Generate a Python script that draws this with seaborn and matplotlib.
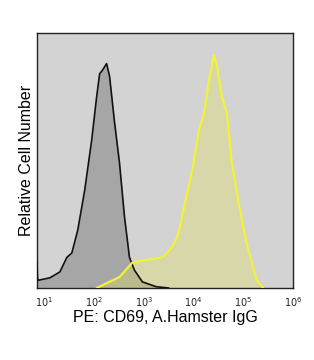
import numpy as np
import pandas as pd
import matplotlib
matplotlib.use("Agg")
import matplotlib.pyplot as plt
import seaborn as sns

# Isotype / unstained (black) histogram: log10 intensity, relative count
ctrl_logx = [0.85, 0.86, 0.87, 1.11, 1.31, 1.45, 1.55, 1.67, 1.81, 1.95, 2.05, 2.11, 2.17, 2.25,
             2.31, 2.41, 2.51, 2.61, 2.71, 2.81, 2.97, 3.25, 3.50]
ctrl_y = [0.10, 0.04, 0.03, 0.04, 0.063, 0.12, 0.137, 0.227, 0.384, 0.58, 0.75, 0.84, 0.855, 0.88,
          0.83, 0.65, 0.49, 0.28, 0.12, 0.07, 0.024, 0.005, 0.0]

# CD69 stained (yellow) histogram
cd69_logx = [2.05, 2.51, 2.77, 3.05, 3.37, 3.57, 3.67, 3.71, 3.85, 3.97, 4.11, 4.21, 4.31, 4.41,
             4.47, 4.57, 4.67, 4.77, 4.91, 5.05, 5.17, 5.27, 5.40]
cd69_y = [0.0, 0.043, 0.10, 0.11, 0.12, 0.16, 0.20, 0.227, 0.357, 0.46, 0.62, 0.686, 0.815, 0.914,
          0.87, 0.75, 0.686, 0.49, 0.33, 0.19, 0.10, 0.03, 0.0]

tick_exps = [1, 2, 3, 4, 5, 6]

sns.set_theme(style="white")
plt.rcParams['font.family'] = ['Liberation Sans', 'DejaVu Sans']

fig = plt.figure(figsize=(3.14, 3.60), dpi=100)
ax = fig.add_axes([37/314, 1 - 288/360, (293-37)/314, (288-33)/360])
ax.set_facecolor('#d3d3d3')

cx = [10**v for v in ctrl_logx]
yx = [10**v for v in cd69_logx]
df_c = pd.DataFrame({'x': cx, 'y': ctrl_y})
df_y = pd.DataFrame({'x': yx, 'y': cd69_y})

ax.fill_between(cx, 0, ctrl_y, color='#a6a6a6', lw=0, zorder=1)
ax.fill_between(yx, 0, cd69_y, color='#e0e060', alpha=0.35, lw=0, zorder=2)
sns.lineplot(data=df_c, x='x', y='y', ax=ax, color='#111111', lw=1.2, sort=False,
             estimator=None, zorder=3)
sns.lineplot(data=df_y, x='x', y='y', ax=ax, color='#f2f23a', lw=1.6, sort=False,
             estimator=None, zorder=4)

ax.set_xscale('log')
ax.set_xlim(10**0.85, 10**5.97)
ax.set_ylim(0, 1.0)
ax.set_xticks([10**e for e in tick_exps])
ax.set_xticklabels([r'$10^{%d}$' % e for e in tick_exps], fontsize=7, color='#222222')
ax.minorticks_off()
ax.tick_params(axis='x', length=0, pad=5)
ax.set_yticks([])
ax.set_xlabel('PE: CD69, A.Hamster IgG', fontsize=11.5, labelpad=1, color='black')
ax.set_ylabel('Relative Cell Number', fontsize=11.5, labelpad=2, color='black')
for s in ax.spines.values():
    s.set_color('#222222')
    s.set_linewidth(1.0)

fig.savefig('out.png', dpi=100)
